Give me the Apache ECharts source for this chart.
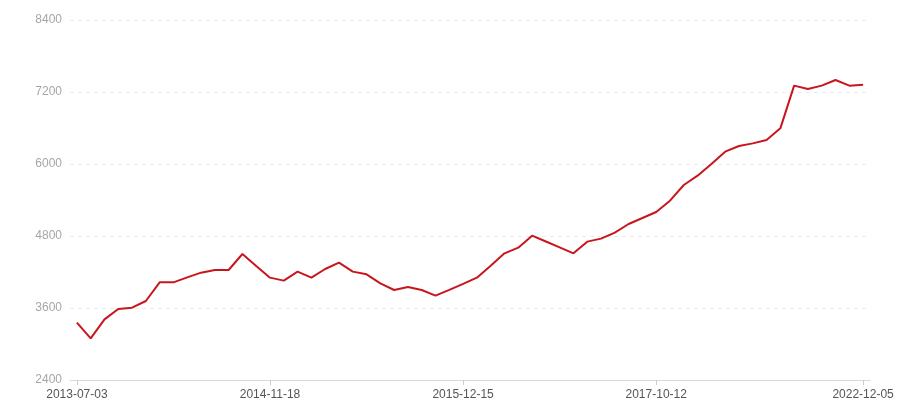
<!DOCTYPE html>
<html><head><meta charset="utf-8">
<script src="https://cdn.jsdelivr.net/npm/echarts@6/dist/echarts.min.js"></script>
<style>html,body{margin:0;padding:0;background:#fff}#c{width:900px;height:400px}</style>
</head><body><div id="c"></div>
<script>
var dates = [
 '2013-07-03','2013-08-05','2013-09-10','2013-10-16','2013-11-20','2013-12-25','2014-01-28','2014-03-05','2014-04-10','2014-05-15','2014-06-19','2014-07-24','2014-08-28','2014-10-10','2014-11-18',
 '2014-12-16','2015-01-13','2015-02-10','2015-03-10','2015-04-07','2015-05-05','2015-06-02','2015-06-30','2015-07-28','2015-08-25','2015-09-22','2015-10-20','2015-11-17','2015-12-15',
 '2016-02-02','2016-03-22','2016-05-10','2016-06-28','2016-08-16','2016-10-04','2016-11-22','2017-01-10','2017-02-28','2017-04-18','2017-06-06','2017-07-25','2017-09-01','2017-10-12',
 '2018-01-16','2018-05-08','2018-09-04','2019-01-08','2019-05-07','2019-09-03','2020-01-07','2020-05-12','2020-09-08','2021-01-12','2021-05-11','2021-09-07','2022-01-11','2022-06-07','2022-12-05'
];
var values = [
 3355,3094,3411,3583,3605,3717,4028,4028,4111,4189,4233,4233,4500,4300,4106,
 4056,4206,4106,4250,4356,4206,4161,4011,3900,3950,3900,3806,3903,4003,
 4106,4306,4511,4606,4806,4708,4610,4511,4706,4756,4856,5000,5100,5200,
 5389,5650,5806,6000,6206,6300,6344,6400,6594,7306,7250,7306,7400,7306,7322
];
var yMin = 2400, yMax = 8400, yStep = 1200;
var labelEvery = 14;
function showLabel(i){ return (i % labelEvery === 0 && i <= 42) || i === dates.length - 1; }
var chart = echarts.init(document.getElementById('c'));
chart.setOption({
  animation: false,
  grid: { left: 70, right: 30, top: 20, bottom: 20, containLabel: false, outerBoundsMode: 'none' },
  xAxis: {
    type: 'category', data: dates, boundaryGap: true,
    axisLine: { lineStyle: { color: '#d9d9d9' } },
    axisTick: { show: true, alignWithLabel: true, length: 5, interval: function(i){ return showLabel(i); }, lineStyle: { color: '#cccccc' } },
    axisLabel: { interval: function(i){ return showLabel(i); }, color: '#555', fontSize: 12, fontFamily: 'Liberation Sans', margin: 9 }
  },
  yAxis: {
    type: 'value', min: yMin, max: yMax, interval: yStep,
    axisLine: { show: false }, axisTick: { show: false },
    axisLabel: { color: '#a6a6a6', fontSize: 12, fontFamily: 'Liberation Sans', margin: 8, formatter: function(v){ return String(v); } },
    splitLine: { lineStyle: { color: '#ebebeb', type: [4, 4] } }
  },
  series: [{
    type: 'line', data: values, showSymbol: false, symbol: 'none',
    lineStyle: { color: '#c8161e', width: 2 }, itemStyle: { color: '#c8161e' }
  }]
});
</script></body></html>
